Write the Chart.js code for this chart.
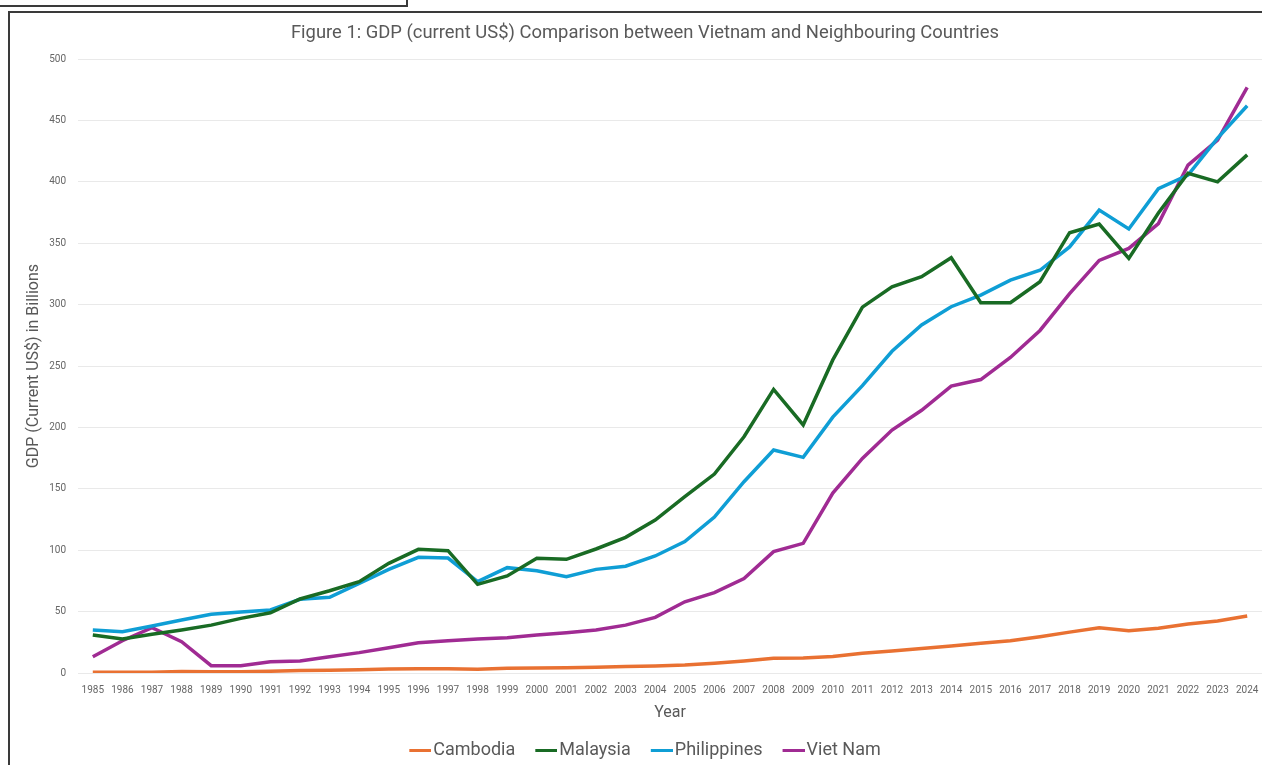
<!DOCTYPE html>
<html>
<head>
<meta charset="utf-8">
<title>GDP comparison</title>
<script src="https://cdn.jsdelivr.net/npm/chart.js@4.4.1/dist/chart.umd.min.js"></script>
<style>
  html,body{margin:0;padding:0;background:#fff;overflow:hidden;}
  #wrap{position:relative;width:1262px;height:765px;}
  #gdp{position:absolute;left:0;top:0;}
  .frame{position:absolute;pointer-events:none;border-color:#3a3a3a;border-style:solid;}
  #boxTop{left:-4px;top:-20px;width:408px;height:23px;border-width:2px;}
  #boxMain{left:8px;top:11px;width:1300px;height:800px;border-width:2px 0 0 2px;}
</style>
</head>
<body>
<div id="wrap">
  <canvas id="gdp" width="1262" height="765"></canvas>
  <div class="frame" id="boxTop"></div>
  <div class="frame" id="boxMain"></div>
</div>
<script>
/* GDP, current US$ billions */
const YEARS = ["1985","1986","1987","1988","1989","1990","1991","1992","1993","1994",
  "1995","1996","1997","1998","1999","2000","2001","2002","2003","2004",
  "2005","2006","2007","2008","2009","2010","2011","2012","2013","2014",
  "2015","2016","2017","2018","2019","2020","2021","2022","2023","2024"];

const CAMBODIA = [0.6,0.6,0.6,1.2,1.0,1.0,1.5,2.0,2.3,2.6,
  3.2,3.4,3.5,3.0,3.8,4.1,4.3,4.6,5.2,5.7,
  6.5,7.9,9.8,12.0,12.3,13.5,16.0,18.0,20.0,22.0,
  24.2,26.3,29.6,33.3,36.9,34.5,36.4,39.9,42.3,46.4];

const MALAYSIA = [30.9,27.7,31.5,35.0,39.0,44.5,49.0,60.3,67.0,74.4,
  89.3,100.7,99.6,72.2,79.0,93.4,92.6,101.0,110.5,124.6,
  143.6,162.0,192.4,231.0,202.0,255.0,298.0,314.6,322.7,338.2,
  301.6,301.6,318.7,358.6,365.6,337.7,374.6,407.0,400.0,422.0];

const PHILIPPINES = [35.0,33.6,38.3,43.2,47.8,49.7,51.3,60.0,61.6,73.0,
  84.4,94.2,93.6,74.4,85.8,83.3,78.4,84.4,87.0,95.3,
  107.0,127.0,155.8,181.6,175.6,208.4,234.0,262.0,283.4,298.3,
  307.8,320.0,328.0,347.0,377.0,361.6,394.5,405.5,435.6,462.0];

const VIETNAM = [13.3,26.3,36.9,25.5,6.0,6.0,9.2,9.8,13.3,16.6,
  20.6,24.7,26.3,27.7,28.8,31.0,32.8,35.0,39.0,45.3,
  58.0,65.4,77.0,98.8,105.6,146.5,174.8,197.9,214.0,233.7,
  239.0,257.0,279.0,309.0,336.0,345.8,366.0,413.7,434.0,477.0];

const PAL = { orange:"#e97132", green:"#196b24", blue:"#0f9ed5", purple:"#a02b93" };
const GREY = "#595959";
const FONT = "Roboto, 'Liberation Sans', sans-serif";

Chart.defaults.font.family = FONT;
Chart.defaults.color = GREY;

// legend swatch: short line that sits right up against the label text
function swatch(color){
  const c = document.createElement("canvas");
  c.width = 29; c.height = 3;
  const g = c.getContext("2d");
  g.fillStyle = color;
  g.fillRect(7, 0, 22, 3);
  return c;
}

function series(label, data, color){
  return { label, data, borderColor:color, backgroundColor:color,
    borderWidth:3.5, pointRadius:0, pointHoverRadius:0, pointStyle:swatch(color),
    tension:0, fill:false };
}

new Chart(document.getElementById("gdp"), {
  type:"line",
  data:{
    labels:YEARS,
    datasets:[
      series("Cambodia", CAMBODIA, PAL.orange),
      series("Malaysia", MALAYSIA, PAL.green),
      series("Philippines", PHILIPPINES, PAL.blue),
      series("Viet Nam", VIETNAM, PAL.purple),
    ]
  },
  options:{
    responsive:false, animation:false,
    layout:{ padding:{ left:22, right:-6, top:0, bottom:-4 } },
    plugins:{
      tooltip:{ enabled:false },
      title:{
        display:true,
        text:"Figure 1: GDP (current US$) Comparison between Vietnam and Neighbouring Countries",
        color:GREY, font:{ size:18.4, weight:"normal" },
        padding:{ top:22, bottom:15 }
      },
      legend:{
        position:"bottom",
        labels:{ usePointStyle:true, pointStyleWidth:15,
          color:GREY, font:{ size:18 }, padding:20 }
      }
    },
    scales:{
      x:{
        offset:true,
        grid:{ display:false },
        border:{ display:false },
        ticks:{ color:"#666", font:{ size:10 }, padding:3, maxRotation:0, autoSkip:false },
        title:{ display:true, text:"Year", color:GREY, font:{ size:16 }, padding:{ top:0, bottom:-2 } },
        afterFit(s){ s.height = 48; }
      },
      y:{
        min:0, max:500,
        grid:{ color:"#e9e9e9", drawTicks:false, lineWidth:1 },
        border:{ display:false },
        ticks:{ stepSize:50, color:"#666", font:{ size:10 }, padding:12 },
        title:{ display:true, text:"GDP (Current US$) in Billions", color:GREY, font:{ size:16 }, padding:{ top:2, bottom:0 } },
        afterFit(s){ s.width = 56; }
      }
    }
  }
});
</script>
</body>
</html>
